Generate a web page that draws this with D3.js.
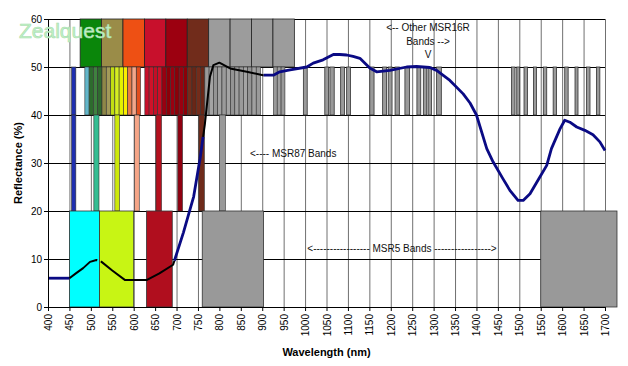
<!DOCTYPE html>
<html><head><meta charset="utf-8">
<script src="https://cdn.jsdelivr.net/npm/d3@7"></script>
<style>
body{margin:0;background:#fff}
svg{display:block}
text{font-family:Arial,"Liberation Sans",sans-serif}
</style>
</head><body>
<svg id="c" width="628" height="366"></svg>
<script>
// ---------- data ----------
const xTickLabels = [400,450,500,550,600,650,700,750,800,850,900,950,1000,1050,1100,1150,1200,1250,1300,1350,1400,1450,1500,1550,1600,1650,1700];
const yTickLabels = [0,10,20,30,40,50,60];

const wavelength  = [400,420,450,465,482,498,513,525,550,580,600,630,660,692,716,740,755,766,778,786,800,825,864,902,926,941,965,1004,1019,1042,1066,1081,1097,1112,1128,1151,1167,1198,1237,1260,1291,1307,1338,1369,1385,1400,1424,1439,1462,1478,1497,1509,1525,1548,1564,1575,1595,1606,1618,1634,1653,1672,1688,1700];
const reflectance = [6.0,6.0,6.0,7.0,8.1,9.4,9.8,9.4,7.6,5.6,5.6,5.6,7.0,8.8,15.5,23,31,38,48,50.4,50.9,49.7,49,48.3,48.3,49,49.4,50,50.8,51.5,52.6,52.6,52.5,52.2,51.8,49.8,49,49.3,50,50.1,49.9,49.3,47.2,44.4,42.5,40,33,30.2,26.7,24.3,22.2,22.2,23.6,27.1,29.5,33,37.1,38.9,38.5,37.5,36.8,35.9,34.4,32.6];

// curve colour pieces (nm)
const blackStart = [450,523,762];
const blackEnd   = [515,695,903];
const navyStart  = [400,695,903];
const navyEnd    = [450,762,1700];

// MSR5 bands (0-20 %)
const msr5Start  = [450,520,630,760,1550];
const msr5End    = [520,600,690,903,1728];
const msr5Colors = ["#00ffff","#c8f514","#b00e1e","#999999","#999999"];

// MSR87 bands (20-40 %)
const msr87Start  = [455,507,556,602,652,703,752,800];
const msr87End    = [465,519,567,613,665,714,765,814];
const msr87Colors = ["#1f2fb0","#33bd92","#cde80a","#f5a587","#b5101e","#900010","#6e2a1a","#999999"];

// MSR16R first bands (50-60 %)
const msr16Start  = [475,525,575,625,675,725,775,825,875,925];
const msr16End    = [525,575,625,675,725,775,825,875,925,975];
const msr16Colors = ["#0a860a","#9a8c48","#ee5014","#c8102c","#9c0010","#712c1b","#9c9c9c","#9c9c9c","#9c9c9c","#9c9c9c"];

// fine bands (40-50 %)
const fineStart  = [455,486,496,506,516,526,536,546,556,566,576,586,596,606,626,636,646,656,666,676,686,696,706,716,726,736,746,756,766,776,786,796,806,816,826,836,846,856,866,876,886,926,935,944];
const fineEnd    = [465,496,506,516,526,536,546,556,566,576,586,596,606,616,636,646,656,666,676,686,696,706,716,726,736,746,756,766,776,786,796,806,816,826,836,846,856,866,876,886,896,935,944,953];
const fineColors = ["#1f2fb0","#63b6c9","#2d6b2d","#3f813f","#2f6a2f","#8e8748","#a39a5a","#c2de12","#d6ee22","#e4f200","#fbee00","#e87a48","#f2a68a","#e24e1e",
  "#c8102a","#d01228","#c40e26","#cc1028","#9a0010","#8c0008","#9a0010","#8c0008","#9a0010","#8c0008","#742c1a","#6a2616","#742c1a","#6a2616",
  "#9a9a9a","#a4a4a4","#949494","#a0a0a0","#9a9a9a","#a4a4a4","#949494","#a0a0a0","#9a9a9a","#a4a4a4","#949494","#a0a0a0","#9a9a9a","#9a9a9a","#a0a0a0","#9a9a9a"];

// other MSR16R bands (40-50 %)
const otherStart = [996,1046,1058,1083,1097,1151,1181,1194,1210,1233,1261,1276,1287,1307,1482,1494,1511,1533,1556,1579,1606,1630,1657,1680];
const otherEnd   = [1005,1055,1068,1092,1106,1161,1190,1203,1220,1244,1270,1284,1295,1318,1490,1501,1519,1540,1564,1587,1614,1637,1665,1688];

// ---------- chart ----------
const svg = d3.select("#c");
const x = d3.scaleLinear().domain([400,1700]).range([48,605]);
const y = d3.scaleLinear().domain([0,60]).range([307,19]);

// gridlines
const grid = svg.append("g");
grid.selectAll("line.v").data(xTickLabels).join("line")
  .attr("x1",d=>x(d)+0.5).attr("x2",d=>x(d)+0.5).attr("y1",y(60)).attr("y2",y(0))
  .attr("stroke","#707070").attr("stroke-width",1);
grid.selectAll("line.h").data(yTickLabels).join("line")
  .attr("x1",x(400)).attr("x2",x(1700)).attr("y1",d=>Math.round(y(d))+0.5).attr("y2",d=>Math.round(y(d))+0.5)
  .attr("stroke","#000").attr("stroke-width",1);

function bands(starts, ends, colors, lo, hi, stroke, sw){
  svg.append("g").selectAll("rect").data(starts).join("rect")
    .attr("x",(d)=>x(d)).attr("width",(d,i)=>x(ends[i])-x(d))
    .attr("y",y(hi)).attr("height",y(lo)-y(hi))
    .attr("fill",(d,i)=>Array.isArray(colors)?colors[i]:colors)
    .attr("stroke",stroke).attr("stroke-width",sw);
}
bands(msr16Start, msr16End, msr16Colors, 50, 60, "#222", 0.8);
bands(fineStart, fineEnd, fineColors, 40, 50, "#333", 0.6);
bands(otherStart, otherEnd, "#9a9a9a", 40, 50, "#333", 0.8);
bands(msr87Start, msr87End, msr87Colors, 20, 40, "#333", 0.6);
bands(msr5Start, msr5End, msr5Colors, 0, 20, "#333", 0.8);

// curve
const interp = d3.scaleLinear().domain(wavelength).range(reflectance);
function piece(a,b){
  const pts=[[a,interp(a)]];
  wavelength.forEach((w,i)=>{ if(w>a && w<b) pts.push([w,reflectance[i]]); });
  pts.push([b,interp(b)]);
  return pts;
}
const line = d3.line().x(d=>x(d[0])).y(d=>y(d[1]));
navyStart.forEach((s,i)=>{
  svg.append("path").attr("d",line(piece(s,navyEnd[i]))).attr("fill","none")
    .attr("stroke","#0a0a84").attr("stroke-width",2.8).attr("stroke-linejoin","round");
});
blackStart.forEach((s,i)=>{
  svg.append("path").attr("d",line(piece(s,blackEnd[i]))).attr("fill","none")
    .attr("stroke","#000").attr("stroke-width",2).attr("stroke-linejoin","round");
});

// axes
const xAxis = svg.append("g").attr("transform",`translate(0,${y(0)})`)
  .call(d3.axisBottom(x).tickValues(xTickLabels).tickSize(4).tickSizeOuter(0).tickFormat(d3.format("d")));
xAxis.select(".domain").attr("stroke","#000");
xAxis.selectAll(".tick line").attr("stroke","#000");
xAxis.selectAll(".tick text")
  .attr("transform","rotate(-90)").attr("text-anchor","end")
  .attr("x",-7).attr("y",0).attr("dy","0.35em")
  .attr("font-size","10px").attr("font-family","Arial, 'Liberation Sans', sans-serif").attr("fill","#000");

const yAxis = svg.append("g").attr("transform",`translate(${x(400)},0)`)
  .call(d3.axisLeft(y).tickValues(yTickLabels).tickSize(4).tickSizeOuter(0));
yAxis.select(".domain").attr("stroke","#000");
yAxis.selectAll(".tick line").attr("stroke","#000");
yAxis.selectAll(".tick text").attr("x",-6)
  .attr("font-size","10px").attr("font-family","Arial, 'Liberation Sans', sans-serif").attr("fill","#000");

// titles
svg.append("text").attr("x",326.5).attr("y",356).attr("text-anchor","middle")
  .attr("font-size","11px").attr("font-weight","bold").text("Wavelength (nm)");
svg.append("text").attr("transform","translate(22,163) rotate(-90)").attr("text-anchor","middle")
  .attr("font-size","11px").attr("font-weight","bold").text("Reflectance (%)");

// annotations
const ann = svg.append("g").attr("font-size","10px").attr("fill","#111");
ann.append("text").attr("x",428).attr("y",31).attr("text-anchor","middle").text("<-- Other MSR16R");
ann.append("text").attr("x",428).attr("y",45).attr("text-anchor","middle").text("Bands -->");
ann.append("text").attr("x",428).attr("y",58).attr("text-anchor","middle").text("V");
ann.append("text").attr("x",250).attr("y",156.5).text("<---- MSR87 Bands");
ann.append("text").attr("x",402).attr("y",252).attr("text-anchor","middle")
  .text("<----------------- MSR5 Bands ----------------->");

// watermark
svg.append("text").attr("x",19).attr("y",38)
  .attr("font-family","'Liberation Mono','DejaVu Sans Mono',monospace").attr("font-size","21px")
  .attr("fill","#c2f2c6").attr("stroke","#a6dcae").attr("stroke-width",0.6).text("Zealquest");
</script>
</body></html>
